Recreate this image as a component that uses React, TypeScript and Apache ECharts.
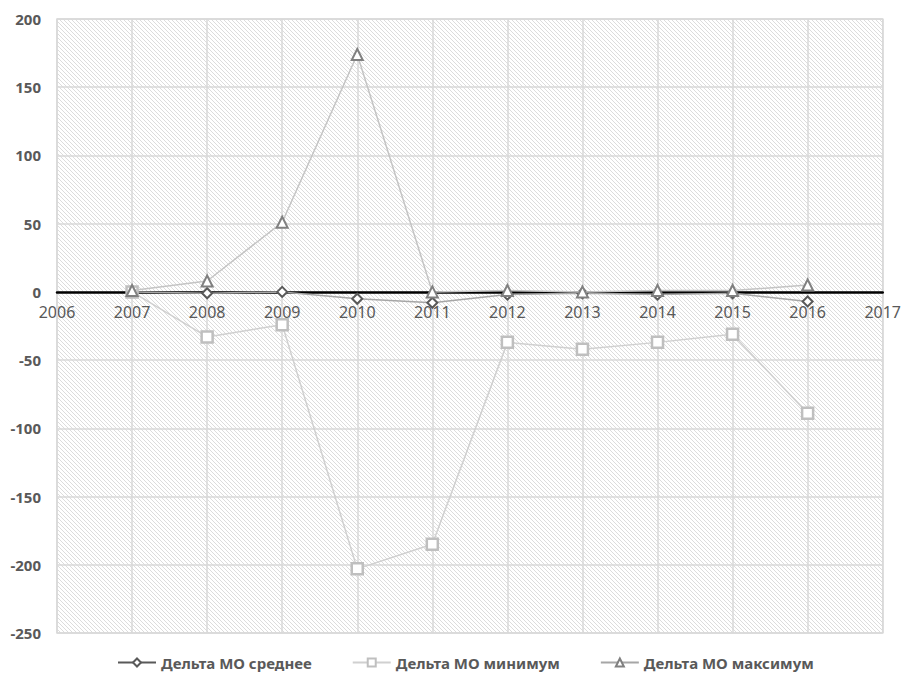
import React, { useEffect, useRef } from "react";
import * as echarts from "echarts";

const years = [2007, 2008, 2009, 2010, 2011, 2012, 2013, 2014, 2015, 2016];
const meanDelta = [0, -1, 0, -5, -8, -2, -1, -2, -1, -7];
const minDelta = [0, -33, -24, -203, -185, -37, -42, -37, -31, -89];
const maxDelta = [1, 8, 51, 174, 0, 1, 0, 1, 1, 5];
const seriesNames = ["Дельта МО среднее", "Дельта МО минимум", "Дельта МО максимум"];
const xMin = 2006;
const xMax = 2017;
const yMin = -250;
const yMax = 200;
const yStep = 50;

function makeHatch(): HTMLCanvasElement {
  const c = document.createElement("canvas");
  c.width = 4;
  c.height = 4;
  const ctx = c.getContext("2d")!;
  ctx.fillStyle = "#ffffff";
  ctx.fillRect(0, 0, 4, 4);
  ctx.fillStyle = "#dcdcdc";
  for (let i = 0; i < 4; i++) ctx.fillRect(i, i, 1, 1);
  return c;
}

const pairs = (vals: number[]) => years.map((y, i) => [y, vals[i]]);

const GRID_TOP = 19;
const GRID_BOTTOM = 48;
const CHART_H = 681;

export default function App() {
  const ref = useRef<HTMLDivElement>(null);
  useEffect(() => {
    if (!ref.current) return;
    const chart = echarts.init(ref.current, undefined, { renderer: "svg" });
    const font = "'Noto Sans', sans-serif";
    const plotH = CHART_H - GRID_TOP - GRID_BOTTOM;
    const zeroOffset = -(plotH * (0 - yMin)) / (yMax - yMin);
    chart.setOption({
      animation: false,
      backgroundColor: "#ffffff",
      grid: {
        left: 57,
        right: 21,
        top: GRID_TOP,
        bottom: GRID_BOTTOM,
        show: true,
        backgroundColor: { image: makeHatch(), repeat: "repeat", imageWidth: 4, imageHeight: 4 },
        borderColor: "#d9d9d9",
        borderWidth: 1.5,
      },
      legend: {
        top: 650,
        left: 112,
        itemGap: 40,
        itemWidth: 38,
        itemHeight: 10,
        textStyle: { fontFamily: font, fontSize: 15, fontWeight: "bold", color: "#595959" },
        data: [
          { name: seriesNames[0], lineStyle: { color: "#595959" } },
          { name: seriesNames[1] },
          { name: seriesNames[2], lineStyle: { color: "#a6a6a6" } },
        ],
      },
      xAxis: [
        {
          type: "value",
          min: xMin,
          max: xMax,
          interval: 1,
          axisLine: { show: true, onZero: true, lineStyle: { color: "#000000", width: 2.5 } },
          axisTick: { show: false },
          axisLabel: { show: false },
          splitLine: { show: true, lineStyle: { color: "#d9d9d9", width: 1.5 } },
          z: 3,
        },
        {
          type: "value",
          min: xMin,
          max: xMax,
          interval: 1,
          position: "bottom",
          offset: zeroOffset,
          axisLine: { show: false, onZero: false },
          axisTick: { show: false },
          axisLabel: {
            fontFamily: font,
            fontSize: 16,
            color: "#595959",
            margin: 12,
            formatter: (v: number) => String(v),
          },
          splitLine: { show: false },
        },
      ],
      yAxis: {
        type: "value",
        min: yMin,
        max: yMax,
        interval: yStep,
        axisLine: { show: false },
        axisTick: { show: false },
        axisLabel: {
          fontFamily: font,
          fontSize: 15,
          fontWeight: "bold",
          color: "#595959",
          margin: 16,
          formatter: (v: number) => String(v),
        },
        splitLine: { show: true, lineStyle: { color: "#d9d9d9", width: 1.5 } },
      },
      series: [
        {
          name: seriesNames[0],
          type: "line",
          data: pairs(meanDelta),
          symbol: "diamond",
          symbolSize: 10,
          lineStyle: { color: "#a6a6a6", width: 1.5 },
          itemStyle: { color: "#ffffff", borderColor: "#595959", borderWidth: 2 },
          z: 3,
        },
        {
          name: seriesNames[1],
          type: "line",
          data: pairs(minDelta),
          symbol: "rect",
          symbolSize: 11,
          lineStyle: { color: "#d0d0d0", width: 1.5 },
          itemStyle: { color: "#ffffff", borderColor: "#bfbfbf", borderWidth: 2.5 },
          z: 4,
        },
        {
          name: seriesNames[2],
          type: "line",
          data: pairs(maxDelta),
          symbol: "triangle",
          symbolSize: 11,
          lineStyle: { color: "#c4c4c4", width: 1.5 },
          itemStyle: { color: "#ffffff", borderColor: "#808080", borderWidth: 2 },
          z: 5,
        },
      ],
    });
    return () => chart.dispose();
  }, []);
  return (
    <div
      ref={ref}
      style={{ position: "fixed", left: 0, top: 0, width: 904, height: CHART_H }}
    />
  );
}
